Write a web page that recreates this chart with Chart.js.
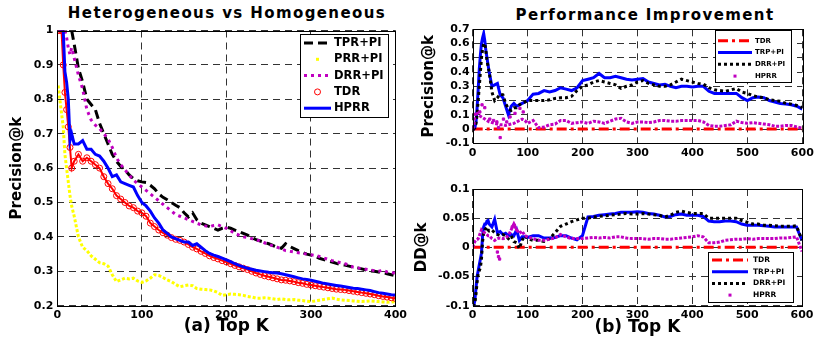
<!DOCTYPE html>
<html>
<head>
<meta charset="utf-8">
<script src="https://cdn.jsdelivr.net/npm/chart.js@4/dist/chart.umd.min.js"></script>
<style>
  body { margin: 0; background: #fff; width: 821px; height: 340px; position: relative; overflow: hidden; }
  canvas { position: absolute; }
  .title { position: absolute; font: bold 15px 'DejaVu Sans', sans-serif; letter-spacing: 1.4px; white-space: nowrap; transform: translateX(-50%); color: #000; }
</style>
</head>
<body>
<div class="title" style="left:227px; top:4px;">Heterogeneous vs Homogeneous</div>
<div class="title" style="left:645px; top:6px;">Performance Improvement</div>
<canvas id="left" width="410" height="340" style="left:0; top:0;"></canvas>
<canvas id="rightTop" width="411" height="170" style="left:410px; top:0;"></canvas>
<canvas id="rightBottom" width="411" height="170" style="left:410px; top:170px;"></canvas>
<script>
// ---- (a) Heterogeneous vs Homogeneous, precision@k for k = 1..400
const kLeft = [1, 3, 5, 7, 9, 11, 13, 15, 17, 20,
  25, 30, 35, 40, 45, 50, 55, 60, 65, 70,
  75, 80, 85, 90, 95, 100, 105, 110, 115, 120,
  125, 130, 135, 140, 145, 150, 155, 160, 165, 170,
  175, 180, 185, 190, 195, 200, 205, 210, 215, 220,
  225, 230, 235, 240, 245, 250, 255, 260, 265, 270,
  275, 280, 285, 290, 295, 300, 305, 310, 315, 320,
  325, 330, 335, 340, 345, 350, 355, 360, 365, 370,
  375, 380, 385, 390, 395, 400];

const tprPi = [1, 1, 1, 1, 1, 1, 1, 1, 1, 0.96,
  0.89, 0.85, 0.80, 0.785, 0.77, 0.73, 0.70, 0.67, 0.64, 0.62,
  0.605, 0.595, 0.58, 0.57, 0.563, 0.56, 0.558, 0.55, 0.54, 0.525,
  0.515, 0.508, 0.5, 0.492, 0.485, 0.47, 0.458, 0.47, 0.45, 0.44,
  0.435, 0.43, 0.425, 0.42, 0.425, 0.428, 0.425, 0.42, 0.415, 0.41,
  0.405, 0.398, 0.392, 0.388, 0.384, 0.38, 0.375, 0.37, 0.367, 0.38,
  0.372, 0.366, 0.36, 0.355, 0.35, 0.347, 0.343, 0.338, 0.334, 0.33,
  0.327, 0.323, 0.32, 0.318, 0.315, 0.312, 0.31, 0.307, 0.304, 0.301,
  0.3, 0.298, 0.296, 0.293, 0.29, 0.287];

const prrPi = [0.84, 0.8, 0.76, 0.72, 0.64, 0.6, 0.56, 0.52, 0.49, 0.46,
  0.4, 0.37, 0.36, 0.345, 0.335, 0.325, 0.322, 0.315, 0.29, 0.27,
  0.275, 0.28, 0.278, 0.28, 0.272, 0.268, 0.272, 0.28, 0.29, 0.288,
  0.282, 0.275, 0.27, 0.262, 0.255, 0.258, 0.26, 0.258, 0.25, 0.248,
  0.247, 0.246, 0.243, 0.238, 0.23, 0.232, 0.234, 0.233, 0.232, 0.23,
  0.227, 0.225, 0.222, 0.222, 0.223, 0.222, 0.22, 0.218, 0.22, 0.218,
  0.217, 0.218, 0.216, 0.215, 0.213, 0.212, 0.214, 0.216, 0.218, 0.22,
  0.222, 0.219, 0.217, 0.216, 0.215, 0.214, 0.213, 0.212, 0.213, 0.214,
  0.213, 0.212, 0.211, 0.21, 0.211, 0.212];

const drrPiLeft = [1, 1, 1, 1, 1, 0.98, 0.95, 0.93, 0.95, 0.92,
  0.87, 0.83, 0.77, 0.74, 0.725, 0.715, 0.70, 0.685, 0.66, 0.63,
  0.61, 0.595, 0.58, 0.565, 0.555, 0.545, 0.535, 0.525, 0.515, 0.505,
  0.495, 0.485, 0.475, 0.465, 0.46, 0.455, 0.45, 0.445, 0.44, 0.435,
  0.432, 0.43, 0.433, 0.435, 0.43, 0.425, 0.418, 0.41, 0.405, 0.40,
  0.398, 0.395, 0.392, 0.388, 0.383, 0.378, 0.374, 0.37, 0.365, 0.36,
  0.358, 0.356, 0.354, 0.352, 0.35, 0.348, 0.346, 0.343, 0.339, 0.335,
  0.331, 0.328, 0.325, 0.322, 0.318, 0.312, 0.31, 0.308, 0.306, 0.304,
  0.302, 0.3, 0.303, 0.298, 0.296, 0.295];

const tdrLeft = [1, 1, 1, 0.9, 0.82, 0.77, 0.72, 0.66, 0.6, 0.62,
  0.64, 0.62, 0.63, 0.62, 0.61, 0.6, 0.575, 0.555, 0.54, 0.52,
  0.51, 0.50, 0.49, 0.485, 0.475, 0.47, 0.46, 0.44, 0.43, 0.42,
  0.412, 0.405, 0.398, 0.393, 0.39, 0.385, 0.378, 0.37, 0.365, 0.358,
  0.352, 0.345, 0.34, 0.336, 0.331, 0.327, 0.322, 0.317, 0.313, 0.309,
  0.305, 0.30, 0.295, 0.291, 0.287, 0.284, 0.281, 0.278, 0.275, 0.274,
  0.272, 0.27, 0.267, 0.265, 0.262, 0.26, 0.258, 0.256, 0.254, 0.252,
  0.25, 0.248, 0.247, 0.246, 0.244, 0.242, 0.24, 0.238, 0.236, 0.234,
  0.232, 0.229, 0.227, 0.225, 0.223, 0.221];

const hprrLeft = [1, 1, 1, 1, 0.88, 0.85, 0.80, 0.68, 0.70, 0.67,
  0.67, 0.68, 0.655, 0.655, 0.64, 0.635, 0.62, 0.60, 0.575, 0.58,
  0.56, 0.555, 0.55, 0.545, 0.52, 0.50, 0.49, 0.475, 0.455, 0.44,
  0.42, 0.41, 0.40, 0.395, 0.39, 0.385, 0.385, 0.375, 0.38, 0.37,
  0.36, 0.352, 0.347, 0.343, 0.338, 0.333, 0.328, 0.322, 0.317, 0.313,
  0.309, 0.306, 0.303, 0.301, 0.299, 0.297, 0.296, 0.295, 0.293, 0.29,
  0.287, 0.284, 0.281, 0.278, 0.276, 0.274, 0.271, 0.268, 0.265, 0.263,
  0.261, 0.259, 0.257, 0.255, 0.253, 0.251, 0.25, 0.248, 0.246, 0.244,
  0.241, 0.238, 0.236, 0.234, 0.232, 0.231];

// ---- (b) Performance improvement, k = 0..600
const kRight = [0, 2, 4, 6, 8, 10, 12, 14, 16, 18,
  20, 22, 24, 26, 28, 30, 35, 40, 45, 50,
  55, 60, 65, 70, 75, 80, 85, 90, 95, 100,
  110, 120, 130, 140, 150, 160, 170, 180, 190, 200,
  210, 220, 230, 240, 250, 260, 270, 280, 290, 300,
  310, 320, 330, 340, 350, 360, 370, 380, 390, 400,
  410, 420, 430, 440, 450, 460, 470, 480, 490, 500,
  510, 520, 530, 540, 550, 560, 570, 580, 590, 600];

const tdrK = [0, 600];
const tdrZero = [0, 0];

const trpPiPrec = [0, 0, 0.01, 0.05, 0.15, 0.28, 0.42, 0.52, 0.6, 0.64,
  0.67, 0.62, 0.55, 0.5, 0.45, 0.4, 0.3, 0.31, 0.32, 0.24,
  0.22, 0.16, 0.1, 0.16, 0.18, 0.16, 0.17, 0.18, 0.19, 0.2,
  0.245, 0.25, 0.27, 0.26, 0.27, 0.29, 0.28, 0.27, 0.29, 0.34,
  0.35, 0.36, 0.39, 0.36, 0.36, 0.37, 0.36, 0.35, 0.345, 0.35,
  0.355, 0.33, 0.32, 0.31, 0.315, 0.3, 0.29, 0.3, 0.3, 0.295,
  0.3, 0.3, 0.265, 0.25, 0.25, 0.25, 0.25, 0.25, 0.22, 0.2,
  0.22, 0.225, 0.22, 0.2, 0.19, 0.18, 0.175, 0.17, 0.16, 0.14];

const drrPiPrec = [0, 0, 0.01, 0.04, 0.1, 0.2, 0.3, 0.4, 0.5, 0.56,
  0.6, 0.6, 0.55, 0.48, 0.44, 0.4, 0.26, 0.2, 0.22, 0.245,
  0.24, 0.18, 0.14, 0.13, 0.15, 0.15, 0.17, 0.185, 0.19, 0.2,
  0.2, 0.2, 0.2, 0.205, 0.215, 0.22, 0.22, 0.23, 0.27, 0.3,
  0.31, 0.33, 0.34, 0.33, 0.32, 0.31, 0.285, 0.3, 0.31, 0.33,
  0.34, 0.32, 0.31, 0.3, 0.3, 0.31, 0.33, 0.35, 0.34, 0.33,
  0.32, 0.315, 0.29, 0.275, 0.27, 0.265, 0.275, 0.285, 0.26, 0.25,
  0.235, 0.225, 0.22, 0.205, 0.2, 0.195, 0.18, 0.175, 0.165, 0.15];

const hprrPrec = [0, 0.02, 0.1, 0.12, 0.11, 0.1, 0.095, 0.09, 0.085, 0.08,
  0.075, 0.07, 0.065, 0.06, 0.055, 0.05, 0.045, 0.04, 0.035, 0.03,
  0.03, 0.025, 0.03, 0.035, 0.04, 0.05, 0.06, 0.07, 0.06, 0.04,
  0.06, 0.01, 0.015, 0.03, 0.035, 0.06, 0.06, 0.04, 0.045, 0.05,
  0.04, 0.055, 0.05, 0.04, 0.055, 0.07, 0.075, 0.05, 0.04, 0.05,
  0.05, 0.045, 0.05, 0.06, 0.06, 0.055, 0.055, 0.06, 0.06, 0.06,
  0.06, 0.05, 0.025, 0.02, 0.02, 0.025, 0.03, 0.055, 0.045, 0.04,
  0.045, 0.04, 0.035, 0.03, 0.02, 0.02, 0.025, 0.025, 0.015, 0.005];

const hprrPrecExtraK = [13, 17, 22, 31, 38, 44, 47, 50, 56, 62, 68, 77, 86, 92];
const hprrPrecExtra = [0.12, 0.17, 0.15, 0.07, 0.06, 0.05, 0.01, -0.06, 0.07, 0.05, 0.085, 0.11, 0.145, 0.12];

const trpPiDD = [-0.1, -0.1, -0.09, -0.07, -0.05, -0.04, -0.03, -0.02, -0.01, 0.02,
  0.035, 0.04, 0.04, 0.045, 0.046, 0.04, 0.035, 0.048, 0.025, 0.027,
  0.022, 0.024, 0.02, 0.022, 0.02, 0.03, 0.012, 0.018, 0.018, 0.017,
  0.02, 0.02, 0.016, 0.016, 0.017, 0.02, 0.02, 0.016, 0.013, 0.02,
  0.052, 0.053, 0.055, 0.056, 0.057, 0.058, 0.06, 0.06, 0.06, 0.061,
  0.06, 0.058, 0.057, 0.055, 0.052, 0.053, 0.056, 0.057, 0.055, 0.055,
  0.055, 0.053, 0.045, 0.044, 0.044, 0.045, 0.045, 0.044, 0.04, 0.038,
  0.038, 0.038, 0.037, 0.036, 0.035, 0.035, 0.035, 0.035, 0.035, 0.012];

const drrPiDD = [-0.1, -0.1, -0.095, -0.08, -0.06, -0.045, -0.04, -0.035, -0.02, 0.01,
  0.025, 0.03, 0.032, 0.035, 0.03, 0.028, 0.03, 0.025, 0.022, 0.02,
  0.022, 0.02, 0.015, 0.02, 0.01, 0.008, -0.002, 0.012, 0.02, 0.015,
  0.012, 0.012, 0.01, 0.015, 0.025, 0.036, 0.04, 0.044, 0.047, 0.05,
  0.05, 0.052, 0.053, 0.054, 0.055, 0.056, 0.057, 0.058, 0.057, 0.057,
  0.058, 0.057, 0.056, 0.055, 0.052, 0.055, 0.06, 0.062, 0.06, 0.058,
  0.058, 0.058, 0.05, 0.05, 0.05, 0.05, 0.05, 0.05, 0.046, 0.043,
  0.04, 0.04, 0.038, 0.038, 0.037, 0.036, 0.036, 0.036, 0.037, 0.012];

const hprrDD = [0, 0.005, 0.01, 0.012, 0.013, 0.015, 0.02, 0.025, 0.03, 0.028,
  0.026, 0.025, 0.024, 0.022, 0.02, 0.02, 0.015, 0.012, 0.015, 0.016,
  0.015, 0.016, 0.02, 0.03, 0.04, 0.03, 0.024, 0.028, 0.02, 0.018,
  0.015, 0.012, 0.012, 0.014, 0.016, 0.022, 0.018, 0.015, 0.015, 0.015,
  0.016, 0.017, 0.016, 0.017, 0.016, 0.018, 0.018, 0.016, 0.015, 0.015,
  0.015, 0.014, 0.015, 0.015, 0.014, 0.014, 0.015, 0.016, 0.017, 0.018,
  0.02, 0.018, 0.008, 0.008, 0.009, 0.012, 0.013, 0.014, 0.014, 0.015,
  0.014, 0.015, 0.015, 0.015, 0.015, 0.016, 0.016, 0.017, 0.018, -0.007];

const hprrDDExtraK = [45, 47, 49, 72, 76, 80];
const hprrDDExtra = [-0.008, -0.016, -0.02, 0.035, 0.038, 0.03];

const RED = '#ff0000', BLUE = '#0000ff', MAGENTA = '#c000c0', YELLOW = '#ffff00';

Chart.defaults.font.family = "'DejaVu Sans', sans-serif";
Chart.defaults.font.weight = 'bold';
Chart.defaults.font.size = 11;
Chart.defaults.color = '#000';

const pts = (ks, vs) => ks.map((k, i) => ({ x: k, y: vs[i] }));
const fmt = v => String(Math.round(v * 1000) / 1000);

// solid box around the plot area, like the matlab axes
const frame = {
  id: 'frame',
  afterDatasetsDraw(chart) {
    const { ctx, chartArea: a } = chart;
    ctx.save();
    ctx.strokeStyle = '#000';
    ctx.lineWidth = 1;
    ctx.setLineDash([]);
    ctx.strokeRect(Math.round(a.left) + 0.5, Math.round(a.top) + 0.5,
      Math.round(a.right - a.left), Math.round(a.bottom - a.top));
    ctx.restore();
  },
};

// legend box drawn inside the axes
function boxLegend(cfg) {
  return {
    id: 'boxLegend',
    afterDraw(chart) {
      const ctx = chart.ctx;
      ctx.save();
      ctx.fillStyle = '#fff';
      ctx.fillRect(cfg.x, cfg.y, cfg.w, cfg.h);
      ctx.strokeStyle = '#000';
      ctx.lineWidth = 1;
      ctx.strokeRect(cfg.x + 0.5, cfg.y + 0.5, cfg.w, cfg.h);
      ctx.font = cfg.font;
      ctx.textBaseline = 'middle';
      ctx.textAlign = 'left';
      let row = 0;
      chart.data.datasets.forEach(ds => {
        if (ds.inLegend === false) return;
        const y = cfg.y0 + row * cfg.dy;
        row++;
        const [x0, x1] = cfg.sample;
        const xm = (x0 + x1) / 2;
        ctx.setLineDash([]);
        if (ds.legendMark === 'circle') {
          ctx.strokeStyle = ds.pointBorderColor;
          ctx.lineWidth = 1;
          ctx.beginPath();
          ctx.arc(xm, y, 3, 0, Math.PI * 2);
          ctx.stroke();
        } else if (ds.legendMark === 'dot') {
          ctx.fillStyle = ds.borderColor;
          ctx.fillRect(xm - 1.5, y - 1.5, 3, 3);
        } else {
          ctx.strokeStyle = ds.borderColor;
          ctx.lineWidth = ds.borderWidth;
          ctx.setLineDash(ds.borderDash || []);
          ctx.beginPath();
          ctx.moveTo(x0, y);
          ctx.lineTo(x1, y);
          ctx.stroke();
        }
        ctx.setLineDash([]);
        ctx.fillStyle = '#000';
        ctx.fillText(ds.label, cfg.textX, y);
      });
      ctx.restore();
    },
  };
}

function axes({ xMax, yMin, yMax, yStep, yWidth, xHeight, yTitle, yTitlePad, xTitle, xTitlePad, yTickPad }) {
  const grid = { color: '#333', lineWidth: 1, drawTicks: false };
  const border = { display: false, dash: [7, 5] };
  return {
    x: {
      type: 'linear', min: 0, max: xMax,
      grid, border,
      ticks: { stepSize: 100, padding: 3, maxRotation: 0, autoSkip: false },
      title: xTitle ? { display: true, text: xTitle, font: { size: 17, weight: 'bold' }, padding: { top: 0, bottom: xTitlePad } } : { display: false },
      afterFit: s => { s.height = xHeight; },
    },
    y: {
      min: yMin, max: yMax,
      grid, border,
      ticks: { stepSize: yStep, padding: yTickPad, callback: fmt, autoSkip: false },
      title: { display: true, text: yTitle, font: { size: 15, weight: 'bold' }, padding: { top: yTitlePad, bottom: 0 } },
      afterFit: s => { s.width = yWidth; },
    },
  };
}

const base = {
  responsive: false,
  animation: false,
  events: [],
  devicePixelRatio: 1,
  elements: { line: { tension: 0, borderCapStyle: 'butt' }, point: { radius: 0 } },
  plugins: { legend: { display: false }, tooltip: { enabled: false } },
};

new Chart(document.getElementById('left'), {
  type: 'line',
  data: {
    datasets: [
      { label: 'TPR+PI', data: pts(kLeft, tprPi), borderColor: '#000', borderWidth: 3, borderDash: [9, 5], order: 5 },
      { label: 'PRR+PI', data: pts(kLeft, prrPi), borderColor: YELLOW, borderWidth: 3, borderDash: [3, 2], order: 4, legendMark: 'dot' },
      { label: 'DRR+PI', data: pts(kLeft, drrPiLeft), borderColor: MAGENTA, borderWidth: 3, borderDash: [3, 4], order: 3 },
      { label: 'TDR', data: pts(kLeft, tdrLeft), borderColor: RED, borderWidth: 2, pointRadius: 3, pointStyle: 'circle',
        pointBorderColor: RED, pointBackgroundColor: 'rgba(0,0,0,0)', pointBorderWidth: 1, order: 2, legendMark: 'circle' },
      { label: 'HPRR', data: pts(kLeft, hprrLeft), borderColor: BLUE, borderWidth: 3, order: 1 },
    ],
  },
  options: {
    ...base,
    layout: { autoPadding: false, padding: { left: 0, top: 30.5, right: 14.3, bottom: 0 } },
    scales: axes({ xMax: 400, yMin: 0.2, yMax: 1, yStep: 0.1, yWidth: 57.3, xHeight: 34.3,
      yTitle: 'Precision@k', yTitlePad: 8.5, xTitle: '(a) Top K', xTitlePad: 3, yTickPad: 4 }),
  },
  plugins: [frame, boxLegend({ x: 300, y: 34, w: 88, h: 83, y0: 43, dy: 16.3, sample: [304, 331], textX: 334, font: "bold 11.5px 'DejaVu Sans'" })],
});

new Chart(document.getElementById('rightTop'), {
  type: 'line',
  data: {
    datasets: [
      { label: 'TDR', data: pts(tdrK, tdrZero), borderColor: RED, borderWidth: 3, borderDash: [10, 4, 3, 4], order: 4 },
      { label: 'TRP+PI', data: pts(kRight, trpPiPrec), borderColor: BLUE, borderWidth: 3, order: 3 },
      { label: 'DRR+PI', data: pts(kRight, drrPiPrec), borderColor: '#000', borderWidth: 3, borderDash: [3, 3], order: 2 },
      { label: 'HPRR', data: pts(kRight, hprrPrec), borderColor: MAGENTA, borderWidth: 3, borderDash: [3, 1.5], order: 1, legendMark: 'dot' },
      { label: 'HPRR', data: pts(hprrPrecExtraK, hprrPrecExtra), showLine: false, pointRadius: 1.6, pointStyle: 'rect',
        pointBackgroundColor: MAGENTA, pointBorderColor: MAGENTA, borderColor: MAGENTA, order: 1, inLegend: false },
    ],
  },
  options: {
    ...base,
    layout: { autoPadding: false, padding: { left: 0, top: 29.3, right: 18.7, bottom: 0 } },
    scales: axes({ xMax: 600, yMin: -0.1, yMax: 0.7, yStep: 0.1, yWidth: 62.7, xHeight: 26.7,
      yTitle: 'Precision@k', yTitlePad: 10.5, yTickPad: 3 }),
  },
  plugins: [frame, boxLegend({ x: 305, y: 30, w: 76, h: 52, y0: 40.7, dy: 11.8, sample: [308, 342], textX: 345, font: "bold 7px 'DejaVu Sans'" })],
});

new Chart(document.getElementById('rightBottom'), {
  type: 'line',
  data: {
    datasets: [
      { label: 'TDR', data: pts(tdrK, tdrZero), borderColor: RED, borderWidth: 3, borderDash: [10, 4, 3, 4], order: 4 },
      { label: 'TRP+PI', data: pts(kRight, trpPiDD), borderColor: BLUE, borderWidth: 3, order: 3 },
      { label: 'DRR+PI', data: pts(kRight, drrPiDD), borderColor: '#000', borderWidth: 3, borderDash: [3, 3], order: 2 },
      { label: 'HPRR', data: pts(kRight, hprrDD), borderColor: MAGENTA, borderWidth: 3, borderDash: [3, 1.5], order: 1, legendMark: 'dot' },
      { label: 'HPRR', data: pts(hprrDDExtraK, hprrDDExtra), showLine: false, pointRadius: 1.6, pointStyle: 'rect',
        pointBackgroundColor: MAGENTA, pointBorderColor: MAGENTA, borderColor: MAGENTA, order: 1, inLegend: false },
    ],
  },
  options: {
    ...base,
    layout: { autoPadding: false, padding: { left: 0, top: 19, right: 19, bottom: 0 } },
    scales: axes({ xMax: 600, yMin: -0.1, yMax: 0.1, yStep: 0.05, yWidth: 62.7, xHeight: 34.3,
      yTitle: 'DD@k', yTitlePad: 2.7, xTitle: '(b) Top K', xTitlePad: 2, yTickPad: 3 }),
  },
  plugins: [frame, boxLegend({ x: 298, y: 82, w: 85, h: 50, y0: 90, dy: 11.7, sample: [302, 338], textX: 343, font: "bold 7.5px 'DejaVu Sans'" })],
});
</script>
</body>
</html>
